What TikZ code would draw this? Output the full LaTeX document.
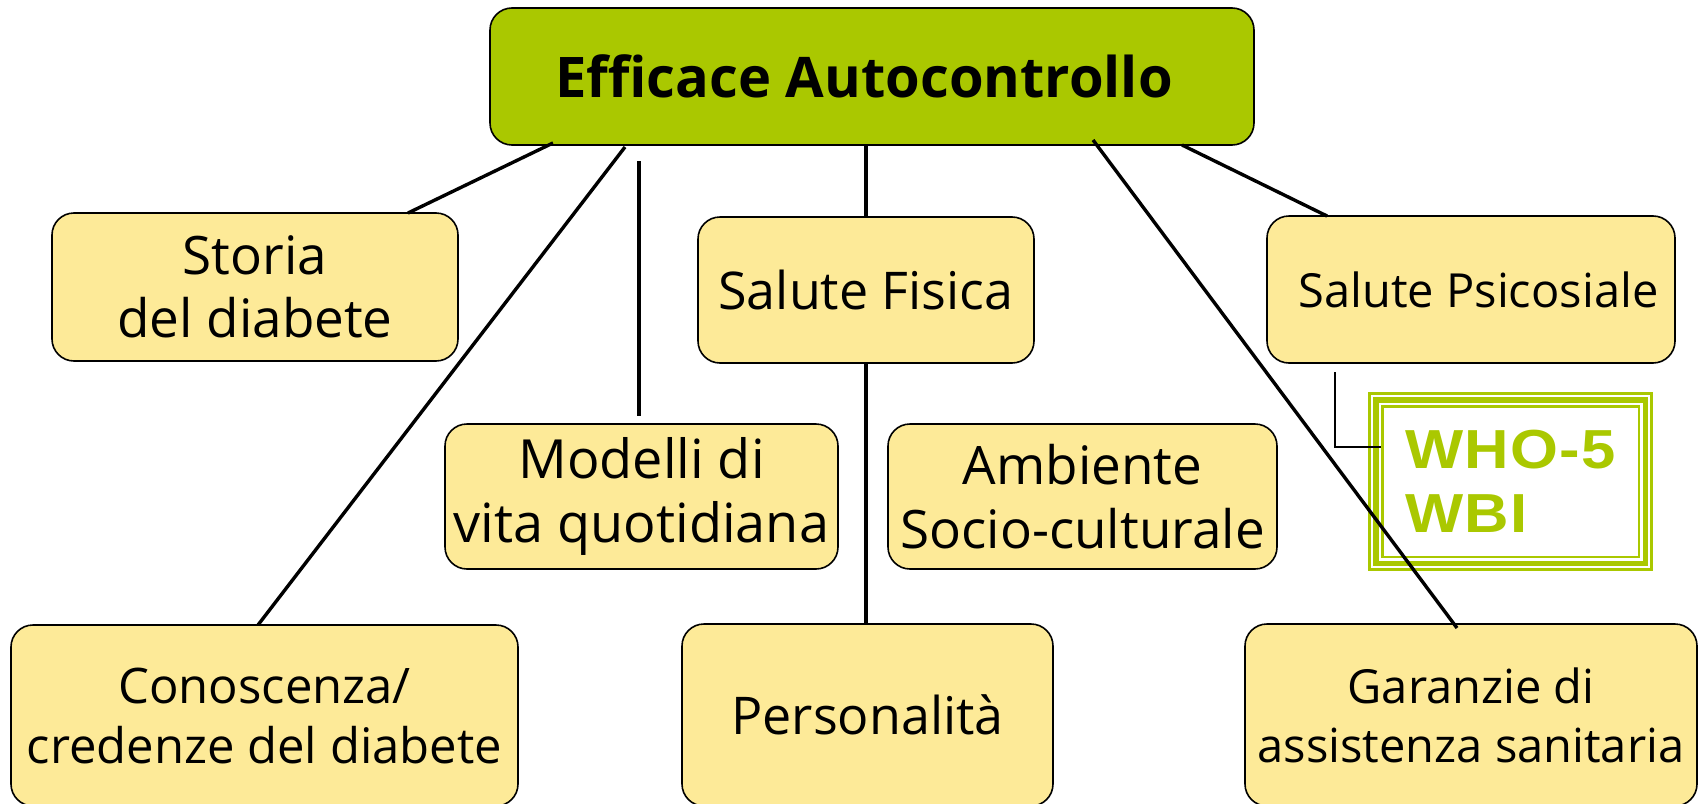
\documentclass[tikz,border=0pt]{standalone}
\usepackage{fontspec}
\setmainfont{Open Sans}
\newfontfamily\whofont{Liberation Sans}[FakeStretch=1.12,LetterSpace=2]
\usetikzlibrary{calc}
\definecolor{leafgreen}{RGB}{170,200,0}
\definecolor{paleyellow}{RGB}{253,234,152}
\begin{document}
\begin{tikzpicture}[x=1pt,y=-1pt,
  factor/.style={draw,line width=1.6pt,fill=paleyellow,rounded corners=22pt,inner sep=0pt,outer sep=0pt,align=center},
  link/.style={line width=3.4pt}]
  \useasboundingbox (0,0) rectangle (1702,803);
  \node[factor,fill=leafgreen,minimum width=764pt,minimum height=137pt,font=\fontsize{56}{67}\selectfont\bfseries] (top) at (872,76.5) {Efficace Autocontrollo\hspace*{16pt}};
  \node[factor,minimum width=406pt,minimum height=148pt,font=\fontsize{53}{63}\selectfont] (storia) at (255,287) {Storia\\del diabete};
  \node[factor,minimum width=336pt,minimum height=146pt,font=\fontsize{52}{62}\selectfont] (fisica) at (866,290) {Salute Fisica};
  \node[factor,minimum width=408pt,minimum height=147pt,font=\fontsize{47}{57}\selectfont] (psico) at (1471,289.5) {\hspace*{15pt}Salute Psicosiale};
  \node[factor,minimum width=393pt,minimum height=145pt,font=\fontsize{54}{64}\selectfont] (modelli) at (641.5,496.5) {Modelli di\\vita quotidiana};
  \node[factor,minimum width=389pt,minimum height=145pt,font=\fontsize{53}{64}\selectfont] (ambiente) at (1082.5,496.5) {Ambiente\\Socio-culturale};
  \node[factor,minimum width=507pt,minimum height=181pt,font=\fontsize{49}{60}\selectfont] (conoscenza) at (264.5,715.5) {Conoscenza/\\credenze del diabete};
  \node[factor,minimum width=371pt,minimum height=182pt,font=\fontsize{52}{62}\selectfont] (personalita) at (867.5,715) {Personalità};
  \node[factor,minimum width=452pt,minimum height=182pt,font=\fontsize{47}{59}\selectfont] (garanzie) at (1471,715) {Garanzie di\\assistenza sanitaria};
  \node[draw=leafgreen,line width=5.5pt,minimum width=269.5pt,minimum height=163.5pt,inner sep=0pt,outer sep=0pt,align=left,text=leafgreen,font=\whofont\bfseries\fontsize{55}{64}\selectfont] (who) at (1510.5,481.5) {WHO-5\\WBI};
  \draw[leafgreen,line width=2.7pt] ($(who.north west)+(-6.25,-6.25)$) rectangle ($(who.south east)+(6.25,6.25)$);
  \draw[leafgreen,line width=2.5pt] ($(who.north west)+(6.5,6.5)$) rectangle ($(who.south east)+(-6.5,-6.5)$);
  \draw[link] ($(top.south west)+(63,-2)$) -- ($(storia.north west)+(356,0)$);
  \draw[link] ($(top.south west)+(135,2)$) -- ($(conoscenza.north west)+(247,0)$);
  \draw[link] ($(top.south west)+(149,16)$) -- ($(modelli.north west)+(194,-8)$);
  \draw[link] (top.south -| fisica.north) -- (fisica.north);
  \draw[link] (fisica.south) -- (fisica.south |- personalita.north);
  \draw[link] ($(top.south west)+(603,-5)$) -- ($(garanzie.north west)+(212,4)$);
  \draw[link] ($(top.south east)+(-72,0)$) -- ($(psico.north west)+(60,0)$);
  \draw[line width=1.3pt] ($(psico.south west)+(68,9)$) |- ($(who.west)+(5.5,-34.5)$);
\end{tikzpicture}
\end{document}
